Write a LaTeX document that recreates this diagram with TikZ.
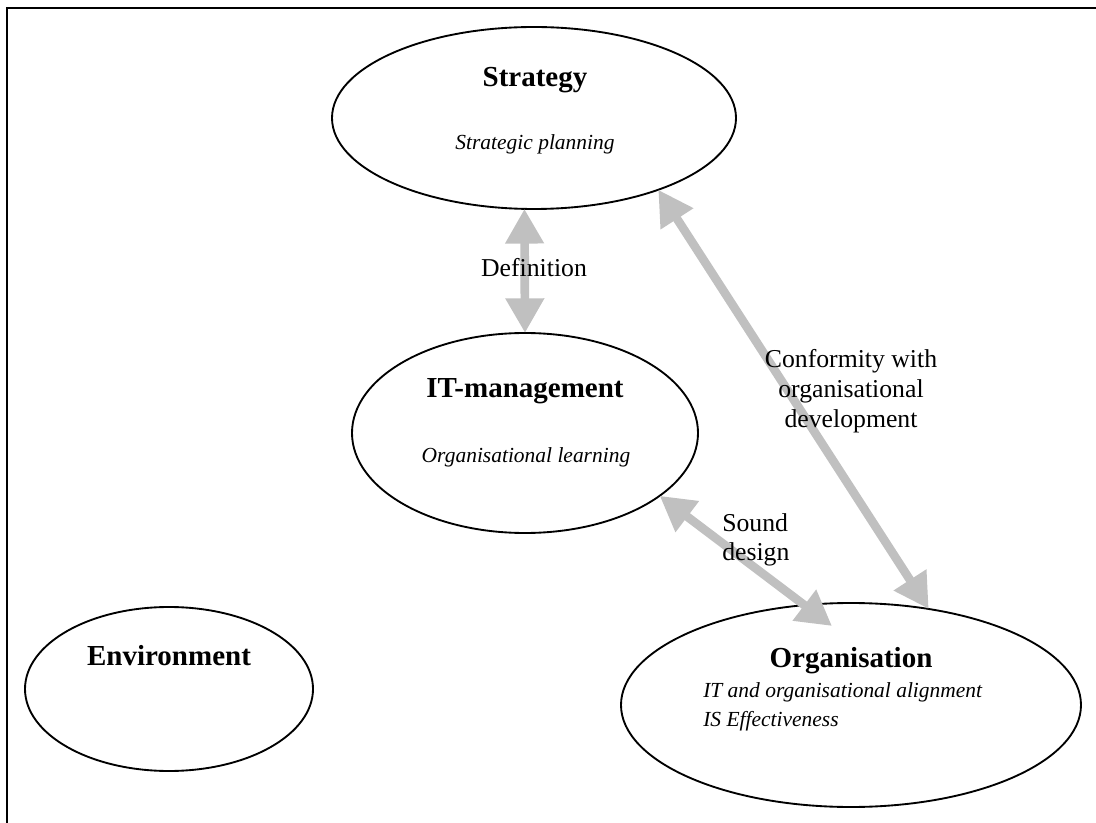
\documentclass[tikz,border=0pt]{standalone}
\usepackage{fontspec}
\setmainfont{Liberation Serif}
\usetikzlibrary{shapes.geometric,arrows.meta}
\definecolor{arrowgray}{RGB}{192,192,192}
\begin{document}
\begin{tikzpicture}[x=0.75pt,y=-0.75pt,
  oval/.style={ellipse, draw=black, line width=1.4pt, fill=white, inner sep=0pt, outer sep=0pt},
  link/.style={draw=arrowgray, line width=6.5pt,
    {Triangle[length=26pt,width=27.5pt]}-{Triangle[length=26pt,width=27.5pt]}},
  txtbold/.style={font=\fontsize{21.75}{26}\selectfont\bfseries, inner sep=0pt, anchor=base},
  txtital/.style={font=\fontsize{16.1}{20}\selectfont\itshape, inner sep=0pt, anchor=base},
  txtplain/.style={font=\fontsize{19.3}{23}\selectfont, inner sep=0pt, anchor=base}]
\useasboundingbox (0,0) rectangle (1096,823);
\draw[line width=1.5pt] (1096,8) -- (7,8) -- (7,823);

% ellipses
\node[oval, minimum width=303pt, minimum height=136.5pt] (strat) at (534,118) {};
\node[oval, minimum width=259.5pt, minimum height=150pt] (it) at (525,433) {};
\node[oval, minimum width=345pt, minimum height=153pt] (org) at (851,705) {};
\node[oval, minimum width=216pt, minimum height=123pt] (env) at (169,689) {};

% connectors
\coordinate (sdtip) at (832,626);
\draw[link] (strat.264.4) -- (it.90);
\draw[link] (strat.-30.1) -- (org.51.8);
\draw[link] (it.-25.7) -- (sdtip);

% texts
\node[txtbold] (tstrat) at (535,87) {Strategy};
\node[txtital] (tsplan) at (535,150) {Strategic planning};
\node[txtplain] (tdef) at (534,277) {Definition};
\node[txtbold] (tit) at (525,398) {IT-management};
\node[txtital] (tol) at (526,462) {Organisational learning};
\node[txtplain] (tc1) at (851,368) {Conformity with};
\node[txtplain] (tc2) at (851,398) {organisational};
\node[txtplain] (tc3) at (851,428) {development};
\node[txtplain, anchor=base west] (ts1) at (722,531) {Sound};
\node[txtplain, anchor=base west] (ts2) at (722,560) {design};
\node[txtbold] (torg) at (851,667) {Organisation};
\node[txtital, anchor=base west] (toa1) at (703,697) {IT and organisational alignment};
\node[txtital, anchor=base west] (toa2) at (703,726) {IS Effectiveness};
\node[txtbold] (tenv) at (169,665) {Environment};
\end{tikzpicture}
\end{document}
